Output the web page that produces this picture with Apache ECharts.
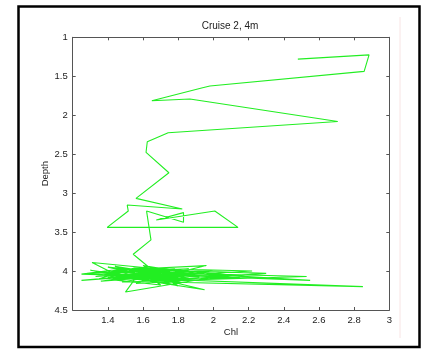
<!DOCTYPE html>
<html>
<head>
<meta charset="utf-8">
<script src="https://cdn.jsdelivr.net/npm/echarts@6/dist/echarts.min.js"></script>
<style>
html,body{margin:0;padding:0;background:#fff;}
#chart{width:427px;height:349px;}
</style>
</head>
<body>
<div id="chart"></div>
<script>
const chartTitle = 'Cruise 2, 4m';
const xLabel = 'Chl';
const yLabel = 'Depth';
// Chl values (x) in path order
const chl = [
  2.48, 2.885, 2.857, 1.98, 1.933, 1.65, 1.866, 2.707,
  1.743, 1.624, 1.617, 1.747, 1.56, 1.823, 1.51, 1.516, 1.396, 2.14, 2.008,
  1.675, 1.83, 1.83, 1.62, 1.645, 1.544, 1.63,
  1.38, 1.72, 1.31, 1.45, 1.86, 1.28, 1.65, 1.96, 1.42, 1.25, 1.70, 2.22, 1.55, 1.35,
  1.80, 1.25, 1.60, 2.05, 1.50, 1.58, 1.92, 1.40, 1.74, 2.30, 1.62, 1.33, 1.85, 1.48,
  2.53, 1.66, 1.44, 1.78, 1.52, 1.95, 1.58, 1.38, 1.69, 2.10, 1.56, 1.30, 1.82, 1.64,
  1.48, 2.40, 1.70, 1.36, 1.90, 1.60, 1.75, 1.46, 2.00, 1.54, 1.67, 1.40, 2.85, 1.72,
  1.50, 1.88, 1.62, 1.34, 1.78, 1.56, 2.15, 1.66, 1.45, 1.83, 1.58, 1.70, 1.42, 1.95,
  1.64, 1.52, 2.55, 1.74, 1.60, 1.86, 1.48, 1.68, 1.80, 1.57, 1.62
];
// Depth values (y) in path order
const depth = [
  1.28, 1.225, 1.437, 1.625, 1.651, 1.814, 1.792, 2.08,
  2.225, 2.34, 2.476, 2.738, 3.067, 3.204, 3.153, 3.23, 3.44, 3.44, 3.23,
  3.345, 3.25, 3.375, 3.23, 3.60, 3.785, 3.945,
  4.02, 3.98, 3.89, 4.05, 3.97, 4.03, 4.10, 3.93, 3.99, 4.04, 4.07, 4.00, 3.96, 4.10,
  4.03, 4.12, 4.05, 4.06, 4.27, 4.02, 4.08, 3.95, 4.12, 4.03, 3.98, 4.07, 4.00, 4.14,
  4.07, 4.02, 3.94, 4.09, 4.01, 4.24, 4.11, 4.04, 3.96, 4.05, 4.08, 3.99, 4.15, 4.04,
  3.97, 4.10, 4.01, 4.13, 4.04, 3.93, 4.16, 4.05, 3.99, 4.09, 3.99, 4.08, 4.20, 4.14,
  4.04, 4.11, 4.07, 4.02, 3.97, 4.16, 4.08, 4.10, 4.01, 4.06, 3.99, 4.18, 4.11, 4.02,
  4.13, 3.98, 4.12, 4.05, 4.01, 4.09, 4.08, 4.03, 4.19, 4.06, 4.12
];
const xMin = 1.2, xMax = 3, xStep = 0.2;
const yMin = 1, yMax = 4.5, yStep = 0.5;

const data = chl.map((c, i) => [c, depth[i]]);
const font = 'Liberation Sans';
const axisCol = '#555';
const txtCol = '#222';

const chart = echarts.init(document.getElementById('chart'), null, {renderer: 'canvas'});
const baseX = {
  type: 'value', min: xMin, max: xMax, interval: xStep,
  axisLine: {show: true, onZero: false, lineStyle: {color: axisCol, width: 1}},
  axisTick: {show: true, inside: true, length: 3, lineStyle: {color: axisCol}},
  splitLine: {show: false}
};
const baseY = {
  type: 'value', min: yMin, max: yMax, interval: yStep, inverse: true,
  axisLine: {show: true, onZero: false, lineStyle: {color: axisCol, width: 1}},
  axisTick: {show: true, inside: true, length: 3, lineStyle: {color: axisCol}},
  splitLine: {show: false}
};
chart.setOption({
  animation: false,
  backgroundColor: '#fff',
  grid: {left: 72.7, right: 37.7, top: 37.3, bottom: 39, containLabel: false},
  xAxis: [
    Object.assign({}, baseX, {
      position: 'bottom',
      name: xLabel, nameLocation: 'middle', nameGap: 17, nameMoveOverlap: false,
      nameTextStyle: {fontFamily: font, fontSize: 9.5, color: txtCol},
      axisLabel: {show: true, fontFamily: font, fontSize: 9.5, color: txtCol, margin: 5, showMinLabel: false}
    }),
    Object.assign({}, baseX, {position: 'top', axisLabel: {show: false}})
  ],
  yAxis: [
    Object.assign({}, baseY, {
      position: 'left',
      name: yLabel, nameLocation: 'middle', nameGap: 22, nameRotate: 90, nameMoveOverlap: false,
      nameTextStyle: {fontFamily: font, fontSize: 9.5, color: txtCol},
      axisLabel: {show: true, fontFamily: font, fontSize: 9.5, color: txtCol, margin: 5}
    }),
    Object.assign({}, baseY, {position: 'right', axisLabel: {show: false}})
  ],
  series: [{
    type: 'line', data: data, xAxisIndex: 0, yAxisIndex: 0,
    showSymbol: false, symbol: 'none', smooth: false,
    lineStyle: {color: '#22ee22', width: 1.1},
    silent: true
  }],
  graphic: [
    {type: 'rect', shape: {x: 18.5, y: 6.5, width: 401, height: 340.5},
     style: {fill: 'none', stroke: '#000', lineWidth: 2.5}, z: 100},
    {type: 'line', shape: {x1: 400, y1: 17, x2: 400, y2: 338},
     style: {stroke: '#f8e4e4', lineWidth: 1}, z: 100},
    {type: 'text', x: 230, y: 26,
     style: {text: chartTitle, font: '10px "Liberation Sans"', fill: txtCol, textAlign: 'center', textVerticalAlign: 'middle'}, z: 100}
  ]
});
</script>
</body>
</html>
